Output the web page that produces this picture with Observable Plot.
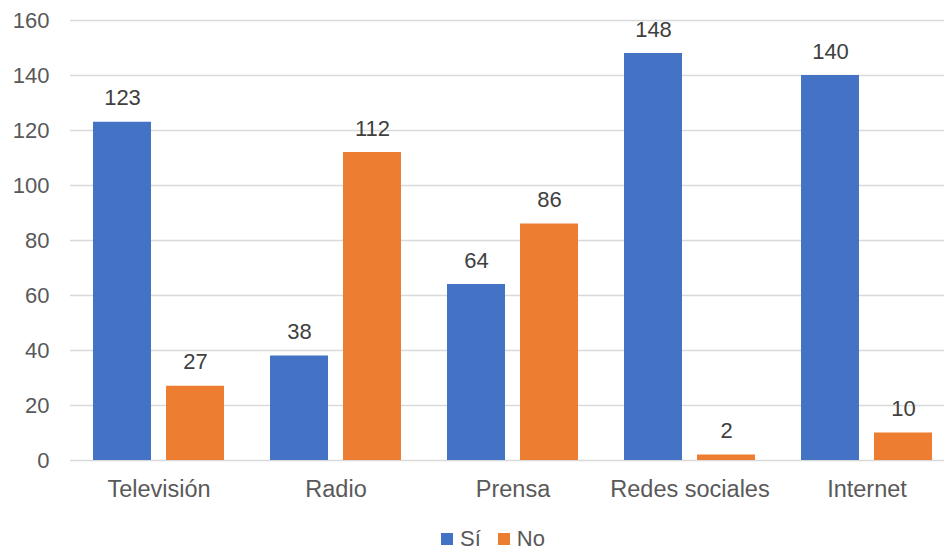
<!DOCTYPE html>
<html>
<head>
<meta charset="utf-8">
<script src="https://cdn.jsdelivr.net/npm/d3@7"></script>
<script src="https://cdn.jsdelivr.net/npm/@observablehq/plot@0.6"></script>
<style>
  html, body { margin: 0; padding: 0; background: #fff; }
  #chart { width: 944px; font-family: "Liberation Sans", Arial, sans-serif; }
  #legend { display: flex; justify-content: flex-start; padding-left: 441px; }
  #legend span { margin-right: 17px !important; display: inline-flex; align-items: center; }
  #legend svg { margin-right: 7px !important; }
</style>
</head>
<body>
<div id="chart"></div>
<script>
// Media categories and answers per category
const medios = ["Televisión", "Radio", "Prensa", "Redes sociales", "Internet"];
const respuestas = ["Sí", "No"];
const si = [123, 38, 64, 148, 140];
const no = [27, 112, 86, 2, 10];
const yTicks = [0, 20, 40, 60, 80, 100, 120, 140, 160];
const colores = ["#4472C4", "#ED7D31"];

const data = medios.flatMap((m, i) => [
  {medio: m, resp: "Sí", valor: si[i]},
  {medio: m, resp: "No", valor: no[i]}
]);

const font = "Liberation Sans, Arial, sans-serif";

const chart = Plot.plot({
  width: 944,
  height: 522,
  marginTop: 20,
  marginBottom: 62,
  marginLeft: 69,
  marginRight: -12,
  style: {fontFamily: font, fontSize: "22px", color: "#595959", background: "#fff"},
  fx: {domain: medios, padding: 0, axis: null, label: null},
  x: {domain: respuestas, axis: null, paddingInner: 0.21, paddingOuter: 0.31},
  y: {domain: [0, 160], ticks: yTicks, label: null, tickSize: 0, tickPadding: 21, grid: true},
  color: {domain: respuestas, range: colores},
  marks: [
    Plot.gridY(yTicks, {stroke: "#d9d9d9", strokeOpacity: 1, strokeWidth: 1.3}),
    Plot.axisFx({anchor: "bottom", fontSize: 23.5, tickSize: 0, tickPadding: 20, label: null}),
    Plot.barY(data, {fx: "medio", x: "resp", y: "valor", fill: "resp"}),
    Plot.text(data, {
      fx: "medio", x: "resp", y: "valor", text: d => String(d.valor),
      lineAnchor: "bottom", dy: -17, fill: "#404040", fontSize: 22
    })
  ]
});

const wrap = document.getElementById("chart");
wrap.appendChild(chart);

// Legend below the plot
const legend = chart.legend("color", {
  swatchSize: 12,
  style: {fontFamily: font, fontSize: "22px", color: "#595959"}
});
const lw = document.createElement("div");
lw.id = "legend";
lw.appendChild(legend);
wrap.appendChild(lw);
</script>
</body>
</html>
